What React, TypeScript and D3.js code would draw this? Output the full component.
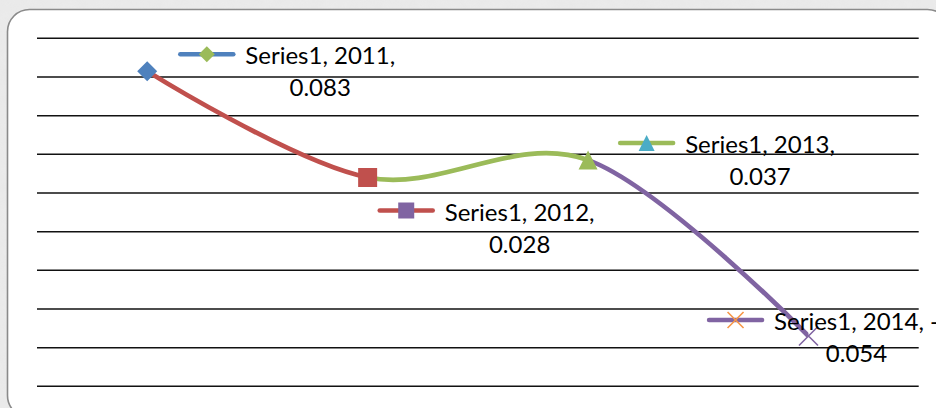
import React from "react";
import * as d3 from "d3";

const categories = ["2011", "2012", "2013", "2014"];
const values = [0.083, 0.028, 0.037, -0.054];
const seriesName = "Series1";
const palette = ["#4F81BD", "#C0504D", "#9BBB59", "#8064A2", "#4BACC6", "#F79646"];
const markerShapes = ["diamond", "square", "triangle", "x"];
// label placement relative to each point (dx of label centre, dy of first baseline)
const labelOffsets = [
  [173, -7],
  [152, 43],
  [172, -7],
  [48, -6],
];

const W = 936;
const H = 408;
const FONT = "Lato, 'Open Sans', sans-serif";
const FS = 24;

function measure(text: string): number {
  const c = document.createElement("canvas").getContext("2d");
  if (!c) return text.length * 11;
  c.font = `${FS}px Lato`;
  return c.measureText(text).width;
}

function Marker({ shape, x, y, color, size }: { shape: string; x: number; y: number; color: string; size: number }) {
  const h = size / 2;
  if (shape === "diamond")
    return <path d={`M${x},${y - h}L${x + h},${y}L${x},${y + h}L${x - h},${y}Z`} fill={color} />;
  if (shape === "square") return <rect x={x - h} y={y - h} width={size} height={size} fill={color} />;
  if (shape === "triangle")
    return <path d={`M${x},${y - h}L${x + h},${y + h}L${x - h},${y + h}Z`} fill={color} />;
  return (
    <path
      d={`M${x - h},${y - h}L${x + h},${y + h}M${x - h},${y + h}L${x + h},${y - h}`}
      stroke={color}
      strokeWidth={1.6}
      fill="none"
    />
  );
}

export default function App() {
  const x = d3.scalePoint<string>().domain(categories).range([37, 918.7]).padding(0.5);
  const y = d3.scaleLinear().domain([-0.08, 0.1]).range([386.3, 38.3]);
  const ticks = y.ticks(10);
  const pts: [number, number][] = categories.map((c, i) => [x(c) as number, y(values[i])]);
  const line = d3.line().curve(d3.curveCardinal.tension(0));
  const pathD = line(pts) || "";

  return (
    <svg width={W} height={H} style={{ position: "fixed", left: 0, top: 0 }} fontFamily={FONT}>
      <defs>
        {pts.slice(0, -1).map((p, i) => (
          <clipPath id={`seg${i}`} key={i}>
            <rect x={p[0]} y={0} width={pts[i + 1][0] - p[0]} height={H} />
          </clipPath>
        ))}
        <filter id="noise">
          <feTurbulence type="fractalNoise" baseFrequency="0.08" numOctaves="2" seed="3" />
          <feColorMatrix type="matrix" values="0 0 0 0 0.8  0 0 0 0 0.8  0 0 0 0 0.8  0 0 0 -1.2 1.1" />
        </filter>
      </defs>
      <rect x={0} y={0} width={W} height={H} fill="#ebebeb" />
      <rect x={0} y={0} width={W} height={H} filter="url(#noise)" opacity={0.6} />
      <rect x={7.5} y={9.5} width={942} height={408} rx={22} fill="#ffffff" stroke="#8a8a8a" strokeWidth={1.6} />
      {ticks.map((t) => (
        <line key={t} x1={37} x2={918.7} y1={y(t)} y2={y(t)} stroke="#111" strokeWidth={1.5} />
      ))}
      {pts.slice(0, -1).map((_, i) => (
        <path
          key={i}
          d={pathD}
          clipPath={`url(#seg${i})`}
          fill="none"
          stroke={palette[i + 1]}
          strokeWidth={4.7}
        />
      ))}
      {pts.map((p, i) => (
        <Marker key={i} shape={markerShapes[i]} x={p[0]} y={p[1]} color={palette[i]} size={i === 0 ? 20 : 19} />
      ))}
      {categories.map((c, i) => {
        const v = values[i];
        const l1 = `${seriesName}, ${c},` + (v < 0 ? " -" : "");
        const l2 = Math.abs(v).toFixed(3);
        const w1 = measure(l1);
        const cx = pts[i][0] + labelOffsets[i][0];
        const b1 = pts[i][1] + labelOffsets[i][1];
        const keyEnd = cx - w1 / 2 - 12;
        const keyStart = keyEnd - 53;
        const ky = b1 - 10;
        return (
          <g key={c}>
            <line
              x1={keyStart}
              x2={keyEnd}
              y1={ky}
              y2={ky}
              stroke={palette[i]}
              strokeWidth={4.5}
              strokeLinecap="round"
            />
            <Marker shape={markerShapes[i]} x={(keyStart + keyEnd) / 2} y={ky} color={palette[i + 2]} size={16} />
            <text x={cx} y={b1} textAnchor="middle" fontSize={FS} fill="#000">
              {l1}
            </text>
            <text x={cx} y={b1 + 32} textAnchor="middle" fontSize={FS} fill="#000">
              {l2}
            </text>
          </g>
        );
      })}
    </svg>
  );
}
